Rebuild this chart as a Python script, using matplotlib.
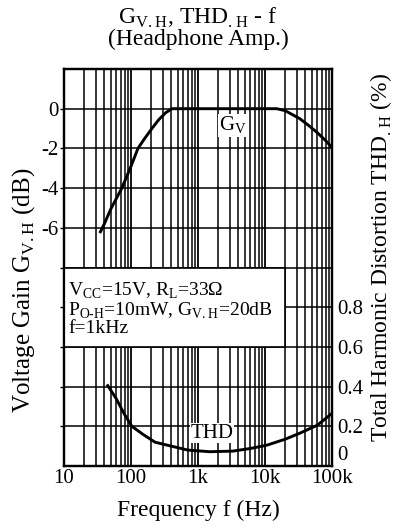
import numpy as np
import matplotlib
matplotlib.use('Agg')
import matplotlib.pyplot as plt
from matplotlib.patches import Rectangle
from matplotlib.transforms import ScaledTranslation

plt.rcParams['font.family'] = ['Liberation Serif', 'DejaVu Serif']
plt.rcParams['mathtext.fontset'] = 'custom'
plt.rcParams['mathtext.rm'] = 'Liberation Serif'

# Gv.H - f
gv_freq = [35, 40, 50, 73, 100, 127, 160, 205, 260, 330, 410, 1000, 5000, 15000,
           20000, 33000, 45000, 60000, 80000, 100000]
gv_db = [-6.2, -5.8, -5.05, -4.0, -2.9, -2.0, -1.5, -1.0, -0.55, -0.2, 0, 0, 0, 0,
         -0.1, -0.5, -0.85, -1.2, -1.6, -1.95]

# THD.H - f
thd_freq = [45, 60, 80, 103, 150, 228, 400, 710, 1500, 3300, 6000, 10700, 20000,
            33000, 60000, 100000]
thd_pct = [0.405, 0.34, 0.26, 0.2, 0.16, 0.12, 0.1, 0.08, 0.072, 0.075, 0.088, 0.105,
           0.135, 0.165, 0.205, 0.265]

x_ticks = [10, 100, 1000, 10000, 100000]
x_labels = ['10', '100', '1k', '10k', '100k']
gv_ticks = [0, -2, -4, -6]
thd_ticks = [0, 0.2, 0.4, 0.6, 0.8]
thd_labels = ['0', '0.2', '0.4', '0.6', '0.8']

W, H = 405, 526
fig = plt.figure(figsize=(W / 100, H / 100), dpi=100)
ax = fig.add_axes([64 / W, 1 - 466 / H, (332 - 64) / W, (466 - 69) / H])

ax.set_xscale('log')
ax.set_xlim(10, 100000)
ax.set_ylim(-18, 2)

# сетка
for dec in [10, 100, 1000, 10000]:
    for m in range(1, 10):
        ax.axvline(dec * m, color='black', lw=1.1 if m > 1 else 1.3, zorder=1)
for y in np.arange(-16, 2, 2):
    ax.axhline(y, color='black', lw=1.1, zorder=1)

ax.set_xticks(x_ticks)
ax.set_xticklabels(x_labels)
ax.xaxis.set_minor_locator(matplotlib.ticker.NullLocator())
left_grid = np.arange(-16, 2, 2)
ax.set_yticks(list(left_grid))
ax.set_yticklabels([str(int(v)) if v in gv_ticks else '' for v in left_grid])
ax.tick_params(axis='both', labelsize=15, length=3, width=1, pad=1)
ax.tick_params(axis='x', length=0, pad=2)

ax.plot(gv_freq, gv_db, color='black', lw=2.1, zorder=4)

# рамка с условиями
ax.add_patch(Rectangle((10, -12), 20000 - 10, 4, facecolor='white', edgecolor='black',
                       lw=1.2, zorder=3))
ax.text(11.5, -10.1,
        'V$_{\\mathrm{CC}}$=15V, R$_{\\mathrm{L}}$=33Ω\n'
        'P$_{\\mathrm{O\\text{-}H}}$=10mW, G$_{\\mathrm{V.H}}$=20dB\nf=1kHz',
        fontsize=14, va='center', ha='left', zorder=5, linespacing=0.95)

ax.text(3300, -0.85, 'G$_{\\mathrm{V}}$', fontsize=15, ha='center', va='center', zorder=5,
        bbox=dict(facecolor='white', edgecolor='none', pad=0.3))

ax2 = ax.twinx()
ax2.set_ylim(0, 2)
ax2.set_yticks(thd_ticks)
ax2.set_yticklabels(thd_labels)
ax2.tick_params(axis='y', labelsize=15, length=0, pad=4)
# "0" справа над "100k"
lbl0 = ax2.get_yticklabels()[0]
lbl0.set_verticalalignment('bottom')
lbl0.set_transform(lbl0.get_transform() + ScaledTranslation(0, 1 / 100, fig.dpi_scale_trans))
ax2.plot(thd_freq, thd_pct, color='black', lw=2.1, zorder=4)
ax2.text(1600, 0.165, 'THD', fontsize=15, ha='center', va='center', zorder=5,
         bbox=dict(facecolor='white', edgecolor='none', pad=0.3))

for a in (ax, ax2):
    for s in a.spines.values():
        s.set_linewidth(1.6)

fig.text(198 / W, 1 - 28 / H,
         'G$_{\\mathrm{V.H}}$, THD$_{\\mathrm{.H}}$ - f\n(Headphone Amp.)',
         fontsize=17, ha='center', va='center', linespacing=0.95)
fig.text(198 / W, 1 - 510 / H, 'Frequency f (Hz)', fontsize=17, ha='center', va='center')
fig.text(24 / W, 1 - 290 / H, 'Voltage Gain G$_{\\mathrm{V.H}}$ (dB)', fontsize=18,
         rotation=90, ha='center', va='center')
fig.text(381 / W, 1 - 258 / H, 'Total Harmonic Distortion THD$_{\\mathrm{.H}}$ (%)',
         fontsize=17, rotation=90, ha='center', va='center')

fig.savefig('out.png', dpi=100)
